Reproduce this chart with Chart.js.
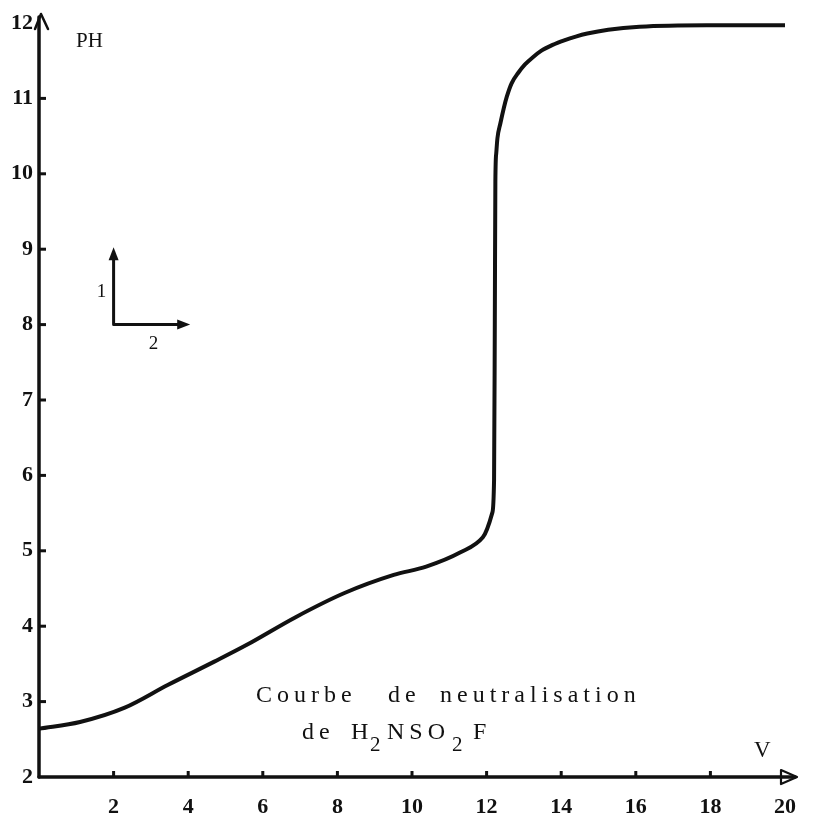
<!DOCTYPE html>
<html>
<head>
<meta charset="utf-8">
<script src="https://cdn.jsdelivr.net/npm/chart.js@4.4.0/dist/chart.umd.min.js"></script>
<style>
  body { margin: 0; background: #fff; }
  #wrap { width: 813px; height: 817px; }
</style>
</head>
<body>
<div id="wrap"><canvas id="phChart" width="813" height="817"></canvas></div>
<script>
// Titration curve: volume V vs pH
const volume = [0, 1.1, 2.3, 3.45, 4.7, 5.56, 6.88, 8.19, 9.51, 10.38, 11.3, 11.9, 12.15, 12.2, 12.22, 12.235, 12.26, 12.29, 12.37, 12.46, 12.54, 12.67, 12.85, 13.03, 13.25, 13.46, 13.77, 14.08, 14.39, 14.7, 15.26, 16.1, 17.9, 20];
const ph     = [2.64, 2.73, 2.92, 3.22, 3.53, 3.75, 4.12, 4.44, 4.68, 4.79, 4.98, 5.18, 5.5, 5.94, 8.0, 9.9, 10.28, 10.47, 10.67, 10.87, 11.02, 11.2, 11.34, 11.45, 11.55, 11.63, 11.71, 11.77, 11.82, 11.86, 11.91, 11.95, 11.97, 11.97];

const yTicks = [2, 3, 4, 5, 6, 7, 8, 9, 10, 11, 12];
const xTicks = [2, 4, 6, 8, 10, 12, 14, 16, 18, 20];

const serif = '"Liberation Serif", "DejaVu Serif", serif';
const ink = '#111';

const points = volume.map((v, i) => ({ x: v, y: ph[i] }));

// axes with arrows, inward tick marks and the annotations
const decorPlugin = {
    id: 'decor',
    afterDatasetsDraw(chart) {
        const ctx = chart.ctx;
        const xs = chart.scales.x;
        const ys = chart.scales.y;
        const x0 = xs.getPixelForValue(0);
        const y0 = ys.getPixelForValue(2);
        const yTop = ys.getPixelForValue(12);

        ctx.save();
        ctx.strokeStyle = ink;
        ctx.fillStyle = ink;
        ctx.lineCap = 'round';
        ctx.lineJoin = 'round';

        // y axis + open arrow head
        ctx.lineWidth = 3.5;
        ctx.beginPath();
        ctx.moveTo(x0, y0);
        ctx.lineTo(x0, yTop - 6);
        ctx.stroke();
        ctx.lineWidth = 2.5;
        ctx.beginPath();
        ctx.moveTo(x0 - 4, yTop + 6);
        ctx.lineTo(x0 + 2, yTop - 9);
        ctx.lineTo(x0 + 9, yTop + 6);
        ctx.stroke();

        // x axis + open triangle head
        const xEnd = xs.getPixelForValue(20) + 10;
        ctx.lineWidth = 3.5;
        ctx.beginPath();
        ctx.moveTo(x0, y0);
        ctx.lineTo(xEnd, y0);
        ctx.stroke();
        ctx.lineWidth = 2.2;
        ctx.beginPath();
        ctx.moveTo(xEnd - 14, y0 - 7);
        ctx.lineTo(xEnd + 2, y0);
        ctx.lineTo(xEnd - 14, y0 + 7);
        ctx.closePath();
        ctx.stroke();

        // tick marks
        ctx.lineWidth = 3;
        ctx.lineCap = 'butt';
        yTicks.forEach(t => {
            if (t === 2 || t === 12) return;
            const p = ys.getPixelForValue(t);
            ctx.beginPath();
            ctx.moveTo(x0, p);
            ctx.lineTo(x0 + 7, p);
            ctx.stroke();
        });
        xTicks.forEach(t => {
            if (t === 20) return;
            const p = xs.getPixelForValue(t);
            ctx.beginPath();
            ctx.moveTo(p, y0);
            ctx.lineTo(p, y0 - 6);
            ctx.stroke();
        });

        // scale indicator: 1 pH unit up, 2 volume units right
        const ox = xs.getPixelForValue(2);
        const oy = ys.getPixelForValue(8);
        const upY = ys.getPixelForValue(9);
        const rightX = xs.getPixelForValue(4);
        ctx.lineWidth = 3;
        ctx.lineCap = 'round';
        ctx.beginPath();
        ctx.moveTo(ox, oy);
        ctx.lineTo(ox, upY + 6);
        ctx.moveTo(ox, oy);
        ctx.lineTo(rightX - 6, oy);
        ctx.stroke();
        ctx.beginPath();
        ctx.moveTo(ox, upY - 2);
        ctx.lineTo(ox - 5, upY + 11);
        ctx.lineTo(ox + 5, upY + 11);
        ctx.closePath();
        ctx.fill();
        ctx.beginPath();
        ctx.moveTo(rightX + 2, oy);
        ctx.lineTo(rightX - 11, oy - 5);
        ctx.lineTo(rightX - 11, oy + 5);
        ctx.closePath();
        ctx.fill();

        ctx.font = '19px ' + serif;
        ctx.textAlign = 'center';
        ctx.textBaseline = 'middle';
        ctx.fillText('1', ox - 12, (oy + upY) / 2 + 5);
        ctx.fillText('2', ox + 40, oy + 19);

        // axis names
        ctx.font = '21px ' + serif;
        ctx.textAlign = 'left';
        ctx.fillText('PH', 76, 41);
        ctx.font = '23px ' + serif;
        ctx.fillText('V', 754, 751);

        // caption, spaced out like the original print
        ctx.font = '24px ' + serif;
        ctx.textBaseline = 'alphabetic';
        ctx.letterSpacing = '5px';
        ctx.fillText('Courbe', 256, 702);
        ctx.fillText('de', 388, 702);
        ctx.fillText('neutralisation', 440, 702);
        ctx.fillText('de', 302, 739);
        ctx.fillText('H', 351, 739);
        ctx.fillText('NSO', 387, 739);
        ctx.fillText('F', 473, 739);
        ctx.font = '21px ' + serif;
        ctx.fillText('2', 370, 751);
        ctx.fillText('2', 452, 751);
        ctx.restore();
    }
};

const chart = new Chart(document.getElementById('phChart'), {
    type: 'line',
    data: {
        datasets: [{
            data: points,
            borderColor: ink,
            borderWidth: 4,
            pointRadius: 0,
            fill: false,
            cubicInterpolationMode: 'monotone'
        }]
    },
    options: {
        responsive: false,
        animation: false,
        layout: { padding: { top: 23, right: 15, left: 0, bottom: 0 } },
        plugins: { legend: { display: false }, tooltip: { enabled: false } },
        scales: {
            x: {
                type: 'linear',
                min: 0,
                max: 20,
                afterFit(scale) { scale.height = 40; },
                afterBuildTicks(scale) { scale.ticks = xTicks.map(v => ({ value: v })); },
                grid: { display: false, drawTicks: false },
                border: { display: false },
                ticks: { color: ink, padding: 17, font: { family: serif, size: 22, weight: 'bold' } }
            },
            y: {
                type: 'linear',
                min: 2,
                max: 12,
                afterFit(scale) { scale.width = 39; },
                afterBuildTicks(scale) { scale.ticks = yTicks.map(v => ({ value: v })); },
                grid: { display: false, drawTicks: false },
                border: { display: false },
                ticks: { color: ink, padding: 6, font: { family: serif, size: 22, weight: 'bold' } }
            }
        }
    },
    plugins: [decorPlugin]
});
</script>
</body>
</html>
